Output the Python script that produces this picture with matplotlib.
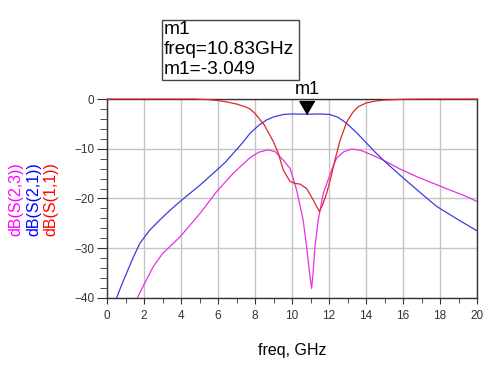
import matplotlib
matplotlib.use("Agg")
import matplotlib.pyplot as plt
from matplotlib.patches import Rectangle

plt.rcParams['font.family'] = ['Liberation Sans', 'DejaVu Sans']

# S(1,1) - red
s11_f = [0, 4.7, 5.5, 6.0, 6.5, 7.0, 7.5, 7.73, 8.0, 8.5, 9.0, 9.26, 9.53, 9.9, 10.2, 10.43,
         10.79, 11.15, 11.3, 11.48, 11.65, 11.87, 12.1, 12.32, 12.6, 12.96, 13.3, 13.6,
         14.0, 14.5, 15.0, 16.0, 17.0, 20.0]
s11_db = [0, 0, -0.1, -0.3, -0.6, -1.0, -1.6, -2.0, -2.9, -5.2, -8.6, -10.9, -14.3, -16.6, -17.0, -17.1,
          -18.0, -20.3, -21.4, -22.6, -21.3, -19.0, -15.8, -12.3, -8.3, -4.6, -2.6, -1.5,
          -0.8, -0.4, -0.2, -0.05, 0, 0]

# S(2,1) - blue
s21_f = [0.52, 0.8, 1.06, 1.4, 1.78, 2.3, 2.86, 3.4, 3.95, 5.03, 5.93, 6.4, 6.83, 7.3, 7.73, 8.2,
         8.63, 9.0, 9.53, 10.0, 10.83, 11.5, 12.05, 12.5, 12.96, 13.5, 14.04, 14.5, 14.94,
         15.84, 16.8, 17.82, 19.0, 20.0]
s21_db = [-40, -37.3, -35, -32, -29, -26.4, -24.3, -22.4, -20.6, -17.3, -14.3, -12.7, -10.9, -8.9, -6.9, -5.3,
          -4.2, -3.6, -3.1, -3.0, -3.049, -3.0, -3.1, -3.7, -4.9, -6.8, -8.9, -10.7, -12.3,
          -15.3, -18.4, -21.6, -24.3, -26.5]

# S(2,3) - magenta
s23_f = [1.64, 2.0, 2.5, 3.0, 3.95, 5.03, 5.93, 6.83, 7.73, 8.2, 8.7, 9.1, 9.53, 9.89, 10.25,
         10.6, 10.79, 10.95, 11.06, 11.15, 11.24, 11.42, 11.69, 12.14, 12.41, 12.8, 13.22,
         13.7, 14.3, 14.94, 15.8, 16.74, 17.6, 18.54, 19.3, 20.0]
s23_db = [-40, -37.3, -33.7, -31.1, -27.7, -23.0, -18.6, -14.9, -11.8, -10.7, -10.2, -10.6, -12.3, -13.9, -18.3,
          -24.3, -29.7, -35.0, -38.1, -34.5, -29.7, -24.3, -19.0, -14.3, -11.9, -10.6, -10.05,
          -10.3, -11.2, -12.3, -14.0, -15.6, -16.9, -18.3, -19.4, -20.6]

m1_freq = 10.83
m1_val = -3.049
box_lines = ["m1", "freq=10.83GHz", "m1=-3.049"]

fig = plt.figure(figsize=(5, 3.71), dpi=100)
ax = fig.add_axes([0.214, 0.197, 0.74, 0.536])

ax.plot(s23_f, s23_db, color='#e632e6', lw=0.9, zorder=3)
ax.plot(s21_f, s21_db, color='#3c3cdc', lw=0.9, zorder=3)
ax.plot(s11_f, s11_db, color='#dc2828', lw=0.9, zorder=4, clip_on=False)

ax.set_xlim(0, 20)
ax.set_ylim(-40, 0)
ax.set_xticks(range(0, 21, 2))
ax.set_xticks(range(0, 21, 1), minor=True)
ax.set_yticks(range(-40, 1, 10))
ax.set_yticks(range(-40, 1, 2), minor=True)
ax.grid(True, which='major', color='#c4c4c4', lw=1, zorder=0)
ax.set_axisbelow(True)

for s in ax.spines.values():
    s.set_color('#333333')
    s.set_linewidth(1)

ax.tick_params(axis='both', which='both', direction='out', colors='#333333',
               labelcolor='#333333', labelsize=8.5, top=False, right=False)
ax.tick_params(axis='y', which='major', length=7, pad=2)
ax.tick_params(axis='y', which='minor', length=4.8)
ax.tick_params(axis='x', which='major', length=4, pad=5)
ax.tick_params(axis='x', which='minor', length=3.5)

ax.set_xlabel("freq, GHz", fontsize=11.5, labelpad=15)

# stacked y labels
fig.text(16 / 500, 1 - 199 / 371, "dB(S(2,3))", color='#ff00ff', rotation=90,
         ha='center', va='center', fontsize=11.5)
fig.text(34 / 500, 1 - 199 / 371, "dB(S(2,1))", color='#0000ff', rotation=90,
         ha='center', va='center', fontsize=11.5)
fig.text(51 / 500, 1 - 199 / 371, "dB(S(1,1))", color='#ff0000', rotation=90,
         ha='center', va='center', fontsize=11.5)

# marker
ax.plot([m1_freq], [m1_val], marker=[(0, 0), (-0.58, 1), (0.58, 1)], markersize=18.7,
        color='black', clip_on=False, zorder=5)
ax.annotate("m1", (m1_freq, m1_val), xytext=(0, 12), textcoords='offset points',
            ha='center', va='bottom', fontsize=13, annotation_clip=False)

# marker readout box
fig.patches.append(Rectangle((162 / 500, 1 - 80 / 371), 137 / 500, 60 / 371,
                             transform=fig.transFigure, fill=False,
                             edgecolor='#444444', lw=1))
for i, line in enumerate(box_lines):
    fig.text(164 / 500, 1 - (30 + 20 * i) / 371, line, ha='left', va='center', fontsize=13.8)

fig.savefig("out.png", dpi=100)
